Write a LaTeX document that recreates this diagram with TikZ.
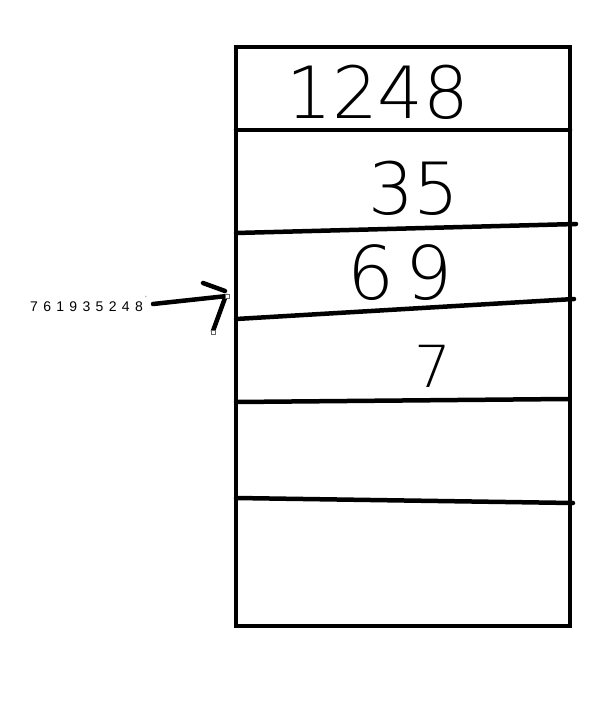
\documentclass[tikz,border=0pt]{standalone}
\usepackage{fontspec}
\setmainfont{Liberation Sans}
\newfontfamily\handfont{DejaVu Sans ExtraLight}
\newfontfamily\labfont[LetterSpace=38]{Liberation Sans}
\begin{document}
\begin{tikzpicture}[x=1pt,y=-1pt,
  thickline/.style={line width=4.5pt,line cap=round},
  hand/.style={inner sep=0pt,font=\handfont\fontsize{72}{72}\selectfont},
  handle/.style={draw=black!60,fill=white,line width=0.6pt,minimum size=4pt,inner sep=0pt}]
\useasboundingbox (0,0) rectangle (589,703);
\draw[line width=4.5pt] (236,47) rectangle (570,626);
\draw[thickline] (236,130) -- (570,130);
\draw[thickline] (236,233) -- (576,224);
\draw[thickline] (236,319) -- (574,299);
\draw[thickline] (236,402) -- (568,399);
\draw[thickline] (236,498) -- (573,503);
\node[hand] (n1248) at (378,92) {1248};
\node[hand] (n35) at (414,188) {35};
\node[hand,font=\handfont\addfontfeatures{LetterSpace=14}\fontsize{74}{74}\selectfont] (n69) at (400,273) {69};
\node[hand,font=\handfont\fontsize{58}{58}\selectfont] (n7) at (433,366) {7};
\node[font=\labfont\fontsize{14}{14}\selectfont,inner sep=0pt,anchor=west] (lab) at (30,307) {761935248};
\node[font=\fontsize{6}{6}\selectfont,inner sep=0pt] (tick) at (146,298) {'};
\coordinate (tip) at (227,296);
\coordinate (hk1) at (203,283);
\coordinate (hk2) at (225,291);
\coordinate (hk3) at (213,331);
\draw[thickline] (153,304) -- (tip);
\draw[thickline] (hk1) -- (hk2);
\draw[thickline] (225,298) -- (hk3);
\node[handle] (h1) at (tip) {};
\node[handle] (h2) at (213,332) {};
\end{tikzpicture}
\end{document}
